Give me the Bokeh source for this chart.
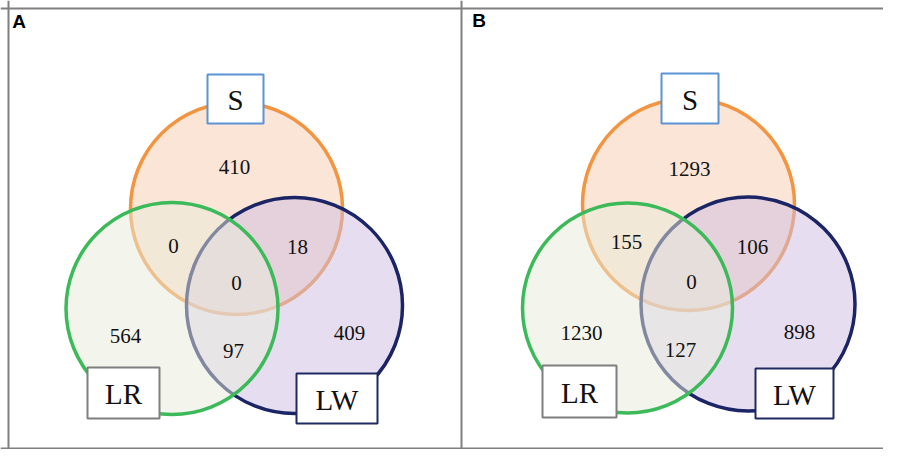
from bokeh.plotting import figure
from bokeh.models import Range1d, Span
from bokeh.core.properties import value
from bokeh.embed import file_html
from bokeh.resources import INLINE

# ---- data ----
panel_labels = ["A", "B"]
set_names = ["S", "LR", "LW"]
regions = ["S only", "LR only", "LW only", "S&LR", "S&LW", "LR&LW", "S&LR&LW"]
counts_a = [410, 564, 409, 0, 18, 97, 0]
counts_b = [1293, 1230, 898, 155, 106, 127, 0]

# ---- layout (reference pixel space) ----
W, H = 883, 449
p = figure(width=W, height=H, output_backend="svg", toolbar_location=None,
           x_range=Range1d(0, W), y_range=Range1d(H, 0),
           min_border=0, x_axis_location=None, y_axis_location=None,
           background_fill_color="white", border_fill_color="white",
           outline_line_color=None)
p.grid.visible = False

frame_col = "#808080"
for loc, dim in [(8, "width"), (448, "width"), (8, "height"), (461, "height")]:
    p.add_layout(Span(location=loc, dimension=dim, line_color=frame_col, line_width=2))

circle_fill = {"S": "#f5cbad", "LR": "#e7ebd9", "LW": "#cdbde1"}
circle_line = {"S": "#f39440", "LR": "#3cba5a", "LW": "#1b2565"}
box_line = {"S": "#5b93d3", "LR": "#7f7f7f", "LW": "#1f2a60"}

panels = [
    dict(label=panel_labels[0], label_pos=(18.5, 21), counts=counts_a,
         circles={"S": (236, 208, 106), "LR": (171.5, 308, 106), "LW": (294, 305, 108)},
         boxes={"S": (207, 263, 74, 123), "LR": (87, 159, 367, 418), "LW": (296, 377, 373, 423)},
         count_pos=[(234, 166), (125, 335), (349, 332), (173, 245), (297, 246), (233, 350), (236, 282)]),
    dict(label=panel_labels[1], label_pos=(478.5, 20), counts=counts_b,
         circles={"S": (688, 204, 106), "LR": (627, 307.5, 105), "LW": (747.5, 303.5, 107)},
         boxes={"S": (661, 718, 73, 123), "LR": (542, 616, 365, 417), "LW": (755, 833, 368, 418)},
         count_pos=[(689, 168), (581, 332), (799, 331), (626, 241), (752, 246), (680, 349), (691, 281)]),
]

draw_order = ["S", "LW", "LR"]
for pan in panels:
    for name in draw_order:
        cx, cy, r = pan["circles"][name]
        p.circle(x=[cx], y=[cy], radius=r, fill_color=circle_fill[name], fill_alpha=0.5,
                 line_color=circle_line[name], line_width=3.5)
    # counts
    xs = [c[0] for c in pan["count_pos"]]
    ys = [c[1] for c in pan["count_pos"]]
    p.text(x=xs, y=ys, text=[str(v) for v in pan["counts"]],
           text_font=value("Liberation Serif"), text_font_size="21px",
           text_align="center", text_baseline="middle", text_color="#111111")
    # set label boxes
    for name in set_names:
        l, rr, t, b = pan["boxes"][name]
        p.quad(left=[l], right=[rr], top=[t], bottom=[b], fill_color="white",
               line_color=box_line[name], line_width=2)
        p.text(x=[(l + rr) / 2], y=[(t + b) / 2 + 1], text=[name],
               text_font=value("Liberation Serif"), text_font_size="29px",
               text_align="center", text_baseline="middle", text_color="#111111")
    p.text(x=[pan["label_pos"][0]], y=[pan["label_pos"][1]], text=[pan["label"]],
           text_font=value("Liberation Sans"), text_font_style="bold", text_font_size="19px",
           text_align="center", text_baseline="middle", text_color="#000000")

open("out.html", "w").write(file_html(p, INLINE))
